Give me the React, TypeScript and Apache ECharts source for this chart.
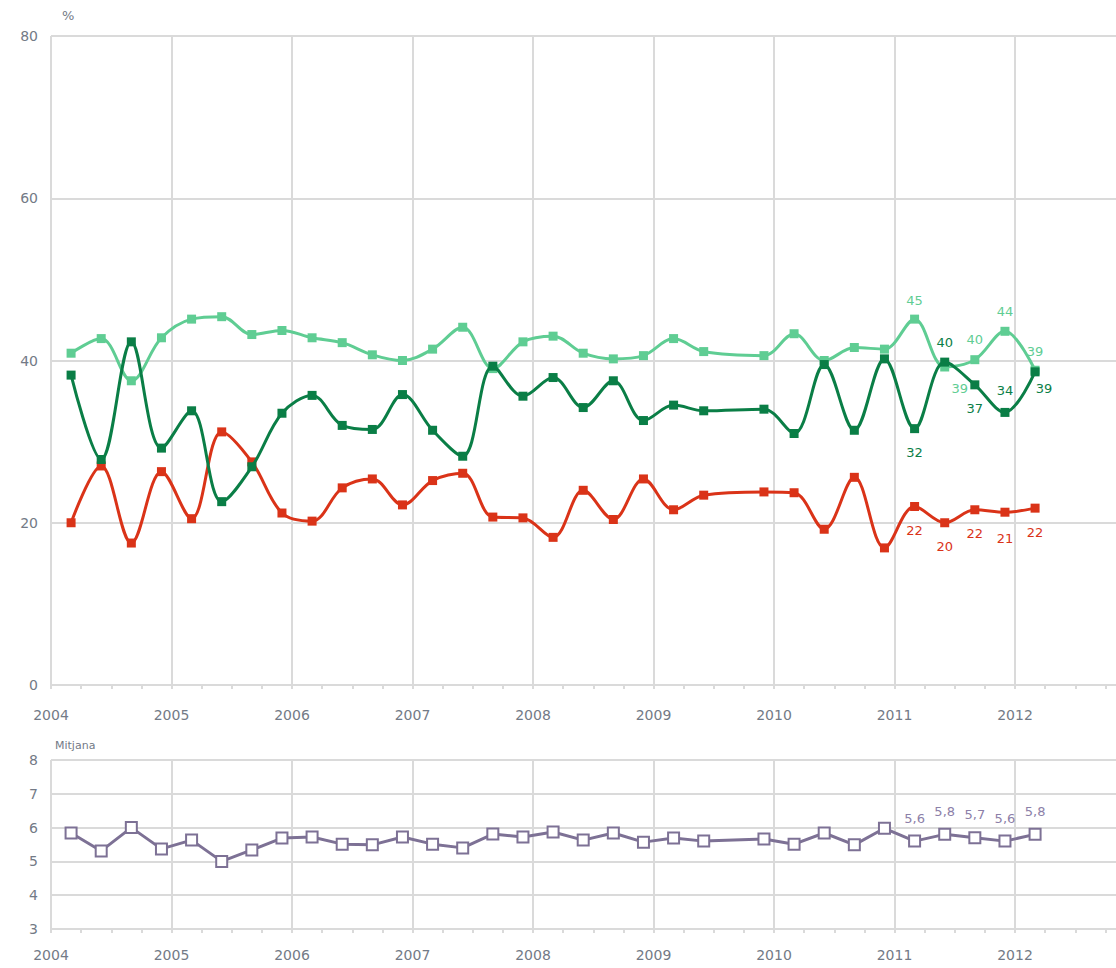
import React, { useEffect, useRef } from "react";
import * as echarts from "echarts";

// Survey waves (year-month)
const dates = [
  "2004-03", "2004-06", "2004-09", "2004-12",
  "2005-03", "2005-06", "2005-09", "2005-12",
  "2006-03", "2006-06", "2006-09", "2006-12",
  "2007-03", "2007-06", "2007-09", "2007-12",
  "2008-03", "2008-06", "2008-09", "2008-12",
  "2009-03", "2009-06", "2009-12",
  "2010-03", "2010-06", "2010-09", "2010-12",
  "2011-03", "2011-06", "2011-09", "2011-12",
  "2012-03",
];

const lightGreen = [
  40.9, 42.7, 37.5, 42.8, 45.1, 45.4, 43.2, 43.7, 42.8, 42.2, 40.7, 40.0,
  41.4, 44.1, 39.0, 42.3, 43.0, 40.9, 40.2, 40.6, 42.7, 41.1, 40.6, 43.3,
  40.0, 41.6, 41.4, 45.1, 39.2, 40.1, 43.6, 38.8,
];

const darkGreen = [
  38.2, 27.8, 42.3, 29.2, 33.8, 22.6, 26.9, 33.5, 35.7, 32.0, 31.5, 35.8,
  31.4, 28.2, 39.3, 35.6, 37.9, 34.2, 37.5, 32.6, 34.5, 33.8, 34.0, 31.0,
  39.5, 31.4, 40.2, 31.6, 39.8, 37.0, 33.6, 38.6,
];

const red = [
  20.0, 27.0, 17.5, 26.3, 20.5, 31.2, 27.5, 21.2, 20.2, 24.3, 25.4, 22.2,
  25.2, 26.1, 20.7, 20.6, 18.2, 24.0, 20.4, 25.4, 21.6, 23.4, 23.8, 23.7,
  19.2, 25.6, 16.9, 22.0, 20.0, 21.6, 21.3, 21.8,
];

const mitjana = [
  5.84, 5.31, 6.0, 5.37, 5.63, 5.0, 5.34, 5.69, 5.72, 5.51, 5.49, 5.72,
  5.51, 5.4, 5.81, 5.72, 5.87, 5.63, 5.84, 5.57, 5.69, 5.6, 5.66, 5.51,
  5.84, 5.49, 5.98, 5.6, 5.8, 5.7, 5.6, 5.8,
];

const topTicks = [0, 20, 40, 60, 80];
const bottomTicks = [3, 4, 5, 6, 7, 8];
const yearTicks = [2004, 2005, 2006, 2007, 2008, 2009, 2010, 2011, 2012];

const LABEL_FROM = 27;

const C_LIGHT = "#5fcd93";
const C_DARK = "#0a7e46";
const C_RED = "#da3318";
const C_PURPLE = "#7d7195";
const GRID = "#dadada";
const TXT = "#737a86";
const FONT = "DejaVu Sans";

const toX = (d: string) => {
  const [y, m] = d.split("-").map(Number);
  return y + (m - 1) / 12;
};

type LblCfg = { pos: string; off: number[] };

const buildData = (
  vals: number[],
  labels: LblCfg[] | null,
  color: string,
  fmt: (v: number) => string
) =>
  vals.map((v, i) => {
    const item: any = { value: [toX(dates[i]), v] };
    if (labels && i >= LABEL_FROM) {
      const c = labels[i - LABEL_FROM];
      item.label = {
        show: true,
        position: c.pos,
        offset: c.off,
        color,
        fontFamily: FONT,
        fontSize: 13,
        formatter: () => fmt(v),
      };
    }
    return item;
  });

const lightLabels: LblCfg[] = [
  { pos: "top", off: [0, -3] },
  { pos: "bottom", off: [15, 6] },
  { pos: "top", off: [0, -4] },
  { pos: "top", off: [0, -4] },
  { pos: "top", off: [0, -3] },
];
const darkLabels: LblCfg[] = [
  { pos: "bottom", off: [0, 8] },
  { pos: "top", off: [0, -4] },
  { pos: "bottom", off: [0, 8] },
  { pos: "top", off: [0, -6] },
  { pos: "bottom", off: [9, 1] },
];
const redLabels: LblCfg[] = [
  { pos: "bottom", off: [0, 8] },
  { pos: "bottom", off: [0, 8] },
  { pos: "bottom", off: [0, 8] },
  { pos: "bottom", off: [0, 10] },
  { pos: "bottom", off: [0, 8] },
];
const mitLabels: LblCfg[] = [
  { pos: "top", off: [0, -5] },
  { pos: "top", off: [0, -5] },
  { pos: "top", off: [0, -5] },
  { pos: "top", off: [0, -5] },
  { pos: "top", off: [0, -5] },
];

export default function App() {
  const ref = useRef<HTMLDivElement>(null);

  useEffect(() => {
    if (!ref.current) return;
    const chart = echarts.init(ref.current, undefined, { renderer: "svg" });

    const xAxisBase = (gridIndex: number, margin: number) => ({
      type: "value",
      gridIndex,
      min: yearTicks[0],
      max: yearTicks[yearTicks.length - 1] + 1,
      interval: 1,
      axisLine: { show: true, lineStyle: { color: GRID, width: 2 } },
      axisTick: { show: true, length: 4, lineStyle: { color: GRID, width: 2 } },
      minorTick: { show: true, splitNumber: 4, length: 4, lineStyle: { color: GRID, width: 2 } },
      splitLine: { show: true, lineStyle: { color: GRID, width: 2 } },
      axisLabel: {
        color: TXT,
        fontFamily: FONT,
        fontSize: 14,
        margin,
        formatter: (v: number) => (yearTicks.includes(v) ? String(v) : ""),
      },
    });

    const yAxisBase = (gridIndex: number, ticks: number[], name: string, nameSize: number) => ({
      type: "value",
      gridIndex,
      min: ticks[0],
      max: ticks[ticks.length - 1],
      interval: ticks[1] - ticks[0],
      name,
      nameLocation: "end",
      nameGap: gridIndex === 0 ? 14 : 9,
      nameTextStyle: {
        color: TXT,
        fontFamily: FONT,
        fontSize: nameSize,
        align: "left",
        padding: [0, 0, 0, gridIndex === 0 ? 11 : 4],
      },
      axisLine: { show: false },
      axisTick: { show: false },
      splitLine: { show: true, lineStyle: { color: GRID, width: 2 } },
      axisLabel: { color: TXT, fontFamily: FONT, fontSize: 14, margin: 13 },
    });

    const topSeries = (name: string, vals: number[], color: string, labels: LblCfg[], z: number) => ({
      name,
      type: "line",
      xAxisIndex: 0,
      yAxisIndex: 0,
      smooth: 0.35,
      z,
      symbol: "rect",
      symbolSize: 9,
      lineStyle: { color, width: 3 },
      itemStyle: { color },
      data: buildData(vals, labels, color, (v) => String(Math.round(v))),
    });

    chart.setOption({
      animation: false,
      backgroundColor: "#ffffff",
      grid: [
        { left: 51, top: 36, height: 649, width: 1084.5, outerBoundsMode: "none", containLabel: false },
        { left: 51, top: 760, height: 169, width: 1084.5, outerBoundsMode: "none", containLabel: false },
      ],
      xAxis: [xAxisBase(0, 23), xAxisBase(1, 19)],
      yAxis: [yAxisBase(0, topTicks, "%", 13), yAxisBase(1, bottomTicks, "Mitjana", 11)],
      series: [
        topSeries("light", lightGreen, C_LIGHT, lightLabels, 2),
        topSeries("red", red, C_RED, redLabels, 3),
        topSeries("dark", darkGreen, C_DARK, darkLabels, 4),
        {
          name: "Mitjana",
          type: "line",
          xAxisIndex: 1,
          yAxisIndex: 1,
          symbol: "rect",
          symbolSize: 11,
          lineStyle: { color: C_PURPLE, width: 3 },
          itemStyle: { color: "#ffffff", borderColor: C_PURPLE, borderWidth: 2 },
          data: buildData(mitjana, mitLabels, "#8c80a8", (v) => v.toFixed(1).replace(".", ",")),
        },
      ],
    });

    return () => chart.dispose();
  }, []);

  return (
    <div
      ref={ref}
      style={{ position: "fixed", left: 0, top: 0, width: 1116, height: 968, background: "#fff" }}
    />
  );
}
